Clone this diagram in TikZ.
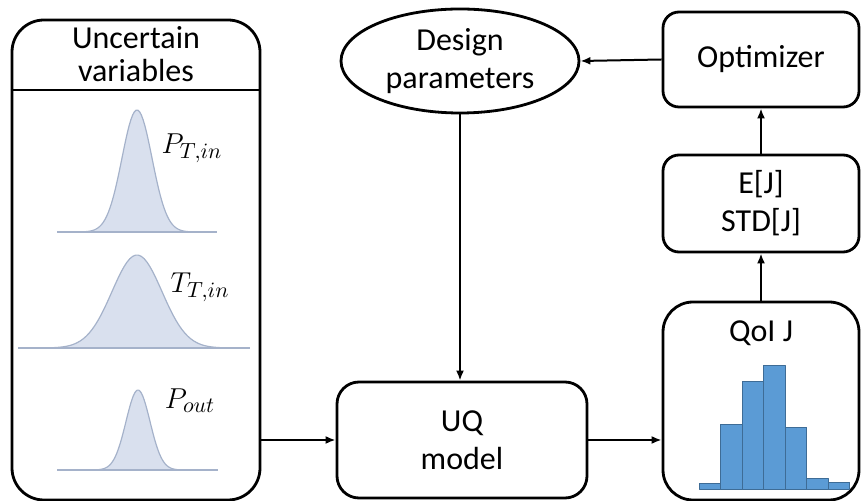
\documentclass[tikz,border=0pt]{standalone}
\usepackage{fontspec}
\setmainfont{Carlito}
\usetikzlibrary{shapes.geometric,arrows.meta}
\definecolor{bellfill}{RGB}{217,224,238}
\definecolor{bellline}{RGB}{165,178,202}
\definecolor{barfill}{RGB}{91,155,213}
\definecolor{barline}{RGB}{62,108,150}
\tikzset{
  box/.style={draw,line width=1.4pt,rounded corners=#1,align=center},
  box/.default=8pt,
  link/.style={-{Latex[length=5pt,width=4pt]},line width=1pt},
  bell/.style={fill=bellfill,draw=bellline,line width=0.6pt},
  histbar/.style={fill=barfill,draw=barline,line width=0.4pt}
}
\begin{document}
\begin{tikzpicture}[x=0.5pt,y=-0.5pt,line join=round,font=\fontsize{16}{19}\selectfont]
  \useasboundingbox (0,0) rectangle (861,501);
  %% Boxes
  \node[box=16pt,minimum width=124pt,minimum height=240pt] (vars) at (136,260) {};
  \node[align=center,font=\fontsize{16}{16.5}\selectfont] (varstitle) at (136,54) {Uncertain\\variables};
  \node[draw,ellipse,line width=1.4pt,minimum width=119pt,minimum height=52pt,align=center,inner sep=0pt] (design) at (460,61) {Design\\parameters};
  \node[box,minimum width=98pt,minimum height=47.5pt] (opt) at (761,59.5) {Optimizer};
  \node[box,minimum width=98pt,minimum height=48.5pt] (stats) at (761,203.5) {E[J]\\STD[J]};
  \node[box=15pt,minimum width=98pt,minimum height=99pt] (qoi) at (761,401) {};
  \node (qoititle) at (761,333) {QoI J};
  \node[box=11pt,minimum width=125pt,minimum height=58pt] (uq) at (462,440) {UQ\\model};
  \draw[line width=1.4pt] (vars.west |- 0,90) -- (vars.east |- 0,90);
  %% Bells
  \foreach \cx/\base/\h/\s/\xa/\xb in {137/232/122/15/57/217, 137/348/93/25/18/250, 138/470/80/12/57/218}{
      \fill[bellfill] plot[domain=-4:4,samples=70] ({\cx+\s*\x},{\base-\h*exp(-\x*\x/2)});
      \draw[bell,fill=none] plot[domain=-4:4,samples=70] ({\cx+\s*\x},{\base-\h*exp(-\x*\x/2)});
      \draw[bellline,line width=0.8pt] (\xa,\base) -- (\xb,\base);
    }
  \foreach \t/\p in {P_{T,in}/{192,148}, T_{T,in}/{200,287}, P_{out}/{190,401}}{
      \node[font=\fontsize{15}{17}\selectfont] (lab) at (\p) {$\t$};
    }
  %% Histogram
  \foreach \a/\top in {699/483,720.5/424,742/381,763.5/365,785/427,806.5/478,828/482}{
      \draw[histbar] (\a,489) rectangle ({\a+21.5},\top);
    }
  %% Links
  \draw[link] (vars.east |- uq.west) -- (uq.west);
  \draw[link] (uq.east) -- (uq.east -| qoi.west);
  \draw[link] (design.south) -- (design.south |- uq.north);
  \draw[link] (opt.west) -- (design.east);
  \draw[link] (qoi.north) -- (stats.south);
  \draw[link] (stats.north) -- (opt.south);
\end{tikzpicture}
\end{document}
